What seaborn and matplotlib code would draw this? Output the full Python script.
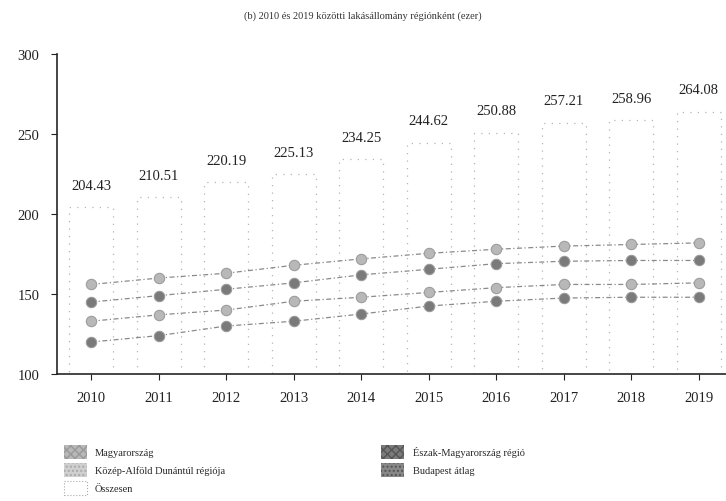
import numpy as np
import pandas as pd
import matplotlib
matplotlib.use('Agg')
import matplotlib.pyplot as plt
import seaborn as sns
from matplotlib.patches import Patch

# DATA
years = ['2010', '2011', '2012', '2013', '2014', '2015', '2016', '2017', '2018', '2019']

total = [204.43, 210.51, 220.19, 225.13, 234.25, 244.62, 250.88, 257.21, 258.96, 264.08]

series_a = [156, 160, 163, 168, 172, 175.5, 178, 180, 181, 182]
series_b = [145, 149, 153, 157, 162, 165.5, 169, 170.5, 171, 171]
series_c = [133, 137, 140, 145.5, 148, 151, 154, 156, 156, 157]
series_d = [120, 124, 130, 133, 137.5, 142.5, 145.5, 147.5, 148, 148]

labels = [
    'Magyarország',
    'Közép-Alföld Dunántúl régiója',
    'Összesen',
    'Észak-Magyarország régió',
    'Budapest átlag',
]

title = '(b) 2010 és 2019 közötti lakásállomány régiónként (ezer)'

sns.set_style('ticks')
plt.rcParams['font.family'] = ['Liberation Serif', 'DejaVu Serif']

fig = plt.figure(figsize=(7.26, 5.02), dpi=100)
ax = fig.add_axes([0.079, 0.253, 0.93, 0.637])

# total as open, sparsely dotted bars
total_df = pd.DataFrame({'Year': years, 'Total': total})
sns.barplot(
    data=total_df,
    x='Year',
    y='Total',
    fill=False,
    width=0.65,
    edgecolor='#b5b5b5',
    linestyle=(0, (1, 5)),
    linewidth=0.9,
    ax=ax
)
ax.bar_label(ax.containers[0], fmt='%.2f', padding=11, fontsize=10.5, color='#222222')

light = '#b8b8b8'
dark = '#7a7a7a'
styles = [
    (series_a, light),
    (series_b, dark),
    (series_c, light),
    (series_d, dark),
]

for vals, col in styles:
    df = pd.DataFrame({'Year': years, 'Value': vals})
    sns.lineplot(
        data=df,
        x='Year',
        y='Value',
        color='#8a8a8a',
        linewidth=0.9,
        linestyle=(0, (4, 2, 1, 2)),
        marker='o',
        markersize=7.5,
        markerfacecolor=col,
        markeredgecolor='#9a9a9a',
        ax=ax
    )

ax.set_ylim(100, 300)
ax.set_xlim(-0.5, 9.5)
ax.set_yticks([100, 150, 200, 250, 300])
ax.set_xlabel('')
ax.set_ylabel('')
ax.tick_params(axis='both', labelsize=10.5, length=4, colors='#222222')
ax.tick_params(axis='y', pad=9)
ax.tick_params(axis='x', pad=8)
sns.despine(ax=ax)
ax.spines['left'].set_linewidth(1.2)
ax.spines['bottom'].set_linewidth(1.2)

fig.text(0.5, 0.968, title, ha='center', va='center', fontsize=7.5, color='#333333')

handles = [
    Patch(facecolor=light, edgecolor='#999999', hatch='xxxx', linewidth=0),
    Patch(facecolor='#d0d0d0', edgecolor='#aaaaaa', hatch='....', linewidth=0),
    Patch(facecolor='white', edgecolor='#aaaaaa', linestyle=':', linewidth=0.8),
    Patch(facecolor=dark, edgecolor='#555555', hatch='xxxx', linewidth=0),
    Patch(facecolor='#888888', edgecolor='#555555', hatch='....', linewidth=0),
]
fig.legend(
    handles=handles,
    labels=labels,
    ncol=2,
    loc='upper left',
    bbox_to_anchor=(0.075, 0.13),
    frameon=False,
    fontsize=7.5,
    columnspacing=15,
    handlelength=2.2,
    handleheight=1.6,
    labelspacing=0.45
)

fig.savefig('out.png', dpi=100)
